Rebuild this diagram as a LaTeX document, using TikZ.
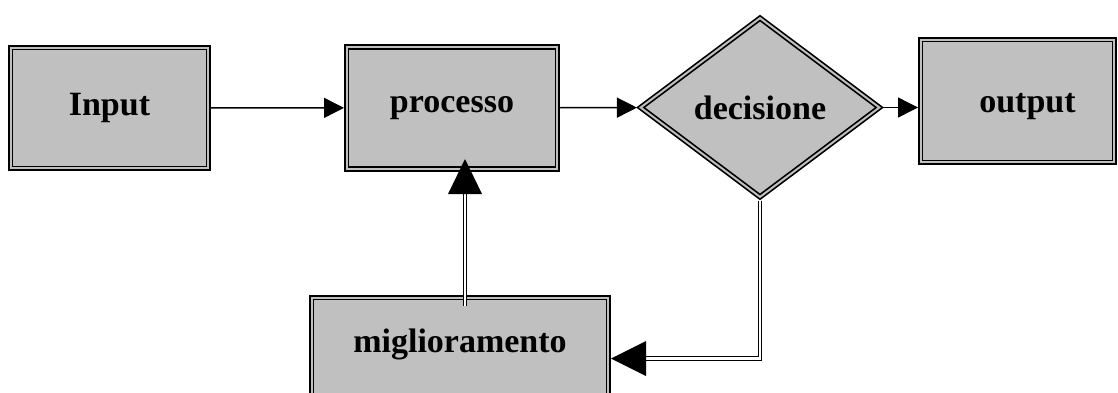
\documentclass[tikz,border=0pt]{standalone}
\usepackage{fontspec}
\setmainfont{Liberation Serif}
\usetikzlibrary{shapes.geometric,arrows.meta,calc}
\definecolor{boxgray}{HTML}{C0C0C0}
\begin{document}
\begin{tikzpicture}[x=1pt,y=-1pt,
  frame/.style={fill=boxgray, draw=black, line width=1.7pt,
    double=boxgray, double distance=2pt, outer sep=2.7pt, inner sep=0pt,
    font=\bfseries\fontsize{34}{40}\selectfont},
  stepbox/.style={frame, rectangle, minimum width=#1},
  choice/.style={frame, diamond, aspect=1.33, minimum width=241pt, minimum height=181pt},
  arr/.style={line width=1.4pt, -{Triangle[length=20pt,width=20pt]}},
  dline/.style={draw=black, line width=1.3pt, double=white, double distance=2.2pt}
]
\useasboundingbox (0,0) rectangle (1118,392);
\clip (0,0) rectangle (1118,392);

% process steps
\node[stepbox=197.6pt, minimum height=120.6pt] (inp)  at (109.5,108)  {Input};
\node[stepbox=210.6pt, minimum height=122pt]   (proc) at (452,107.8)  {processo};
\node[choice]                                  (dec)  at (760,107.5)  {decisione};
\node[stepbox=193.6pt, minimum height=122.6pt, text height=22pt, text depth=0pt]
                                               (out)  at (1017.5,101) {\hspace*{20pt}output};
\node[stepbox=296.6pt, minimum height=101pt, text depth=15pt]
                                               (migl) at (460,348)    {miglioramento};

% main flow
\draw[arr] (inp) -- (proc);
\draw[arr] (proc) -- (dec);
\draw[arr] (dec.east) -- (dec.east -| out.west);

% feedback: improvement back into the process
\coordinate (uptip) at ($(proc.south)+(13,-12.5)$);
\coordinate (upfoot) at (uptip |- migl.north);
\draw[dline] ($(upfoot)+(0,11)$) -- ($(uptip)+(0,34)$);
\fill (uptip) -- ++(-17,35) -- ++(34,0) -- cycle;

% feedback: decision down to improvement
\coordinate (lptip) at ($(migl.east)+(0,10.5)$);
\coordinate (lpcorner) at (dec.south |- lptip);
\draw[dline] (dec.south) -- (lpcorner) -- ($(lptip)+(34,0)$);
\fill (lptip) -- ++(35,-17.5) -- ++(0,35) -- cycle;
\end{tikzpicture}
\end{document}
